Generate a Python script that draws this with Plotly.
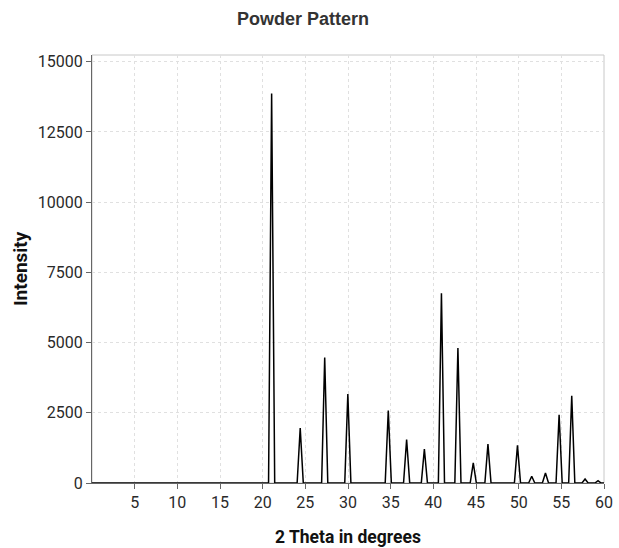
import plotly.graph_objects as go

# Reflection positions (2θ, degrees) and peak intensities
peak_positions = [21.05, 24.40, 27.27, 29.98, 34.72, 36.87, 38.95, 40.95, 42.88,
                  44.68, 46.40, 49.86, 51.53, 53.14, 54.74, 56.22, 57.78, 59.30]
peak_intensities = [13870, 1960, 4470, 3170, 2580, 1550, 1210, 6760, 4810,
                    715, 1390, 1340, 240, 355, 2430, 3110, 140, 80]

x_tick_values = [5, 10, 15, 20, 25, 30, 35, 40, 45, 50, 55, 60]
y_tick_values = [0, 2500, 5000, 7500, 10000, 12500, 15000]
y_tick_labels = [str(v) for v in y_tick_values]

scan_start, scan_end = 0, 60
half_width = 0.36  # half of each peak's base width, in degrees

# Build the profile: flat baseline with a narrow triangular peak at each reflection
xs, ys = [scan_start], [0]
for pos, inten in zip(peak_positions, peak_intensities):
    xs += [pos - half_width, pos, pos + half_width]
    ys += [0, inten, 0]
xs.append(scan_end)
ys.append(0)

fig = go.Figure()
fig.add_trace(go.Scatter(x=xs, y=ys, mode="lines",
                         line=dict(color="black", width=1.5),
                         hoverinfo="skip", showlegend=False))

font_family = "Roboto, Arial, sans-serif"
grid_style = dict(showgrid=True, gridcolor="#e0e0e0", griddash="3px,3px", gridwidth=1)

fig.update_layout(
    width=619, height=548,
    margin=dict(l=92, r=15, t=55, b=65, autoexpand=False),
    paper_bgcolor="white", plot_bgcolor="white",
    font=dict(family=font_family, color="#2a2a2a", size=16),
    title=dict(text="<b>Powder Pattern</b>", x=303 / 619, xanchor="center",
               y=1 - 19 / 548, yanchor="middle",
               font=dict(size=18, family="Liberation Sans, Arial, sans-serif",
                         color="#333333")),
    shapes=[dict(type="rect", xref="paper", yref="paper", x0=0, y0=0, x1=1, y1=1,
                 line=dict(color="#c8c8c8", width=1), layer="below")],
    annotations=[
        dict(text="<b>2 Theta in degrees</b>", xref="paper", yref="paper",
             x=0.5, y=-54 / 428, xanchor="center", yanchor="middle",
             showarrow=False, font=dict(size=17.5, color="#111111")),
        dict(text="<b>Intensity</b>", xref="paper", yref="paper",
             x=-72 / 512, y=0.5, xanchor="center", yanchor="middle",
             textangle=-90, showarrow=False, font=dict(size=19, color="#111111")),
    ],
)

fig.update_xaxes(
    range=[scan_start, scan_end], tickvals=x_tick_values, automargin=False,
    ticks="outside", ticklen=5, tickcolor="#666666",
    showline=True, linecolor="#666666", linewidth=1,
    zeroline=False, tickfont=dict(size=16), **grid_style,
)
fig.update_yaxes(
    range=[0, 15240], tickvals=y_tick_values, ticktext=y_tick_labels,
    automargin=False,
    ticks="outside", ticklen=5, tickcolor="#666666",
    showline=True, linecolor="#666666", linewidth=1,
    zeroline=False, tickfont=dict(size=16), **grid_style,
)

fig.write_html("out.html")
